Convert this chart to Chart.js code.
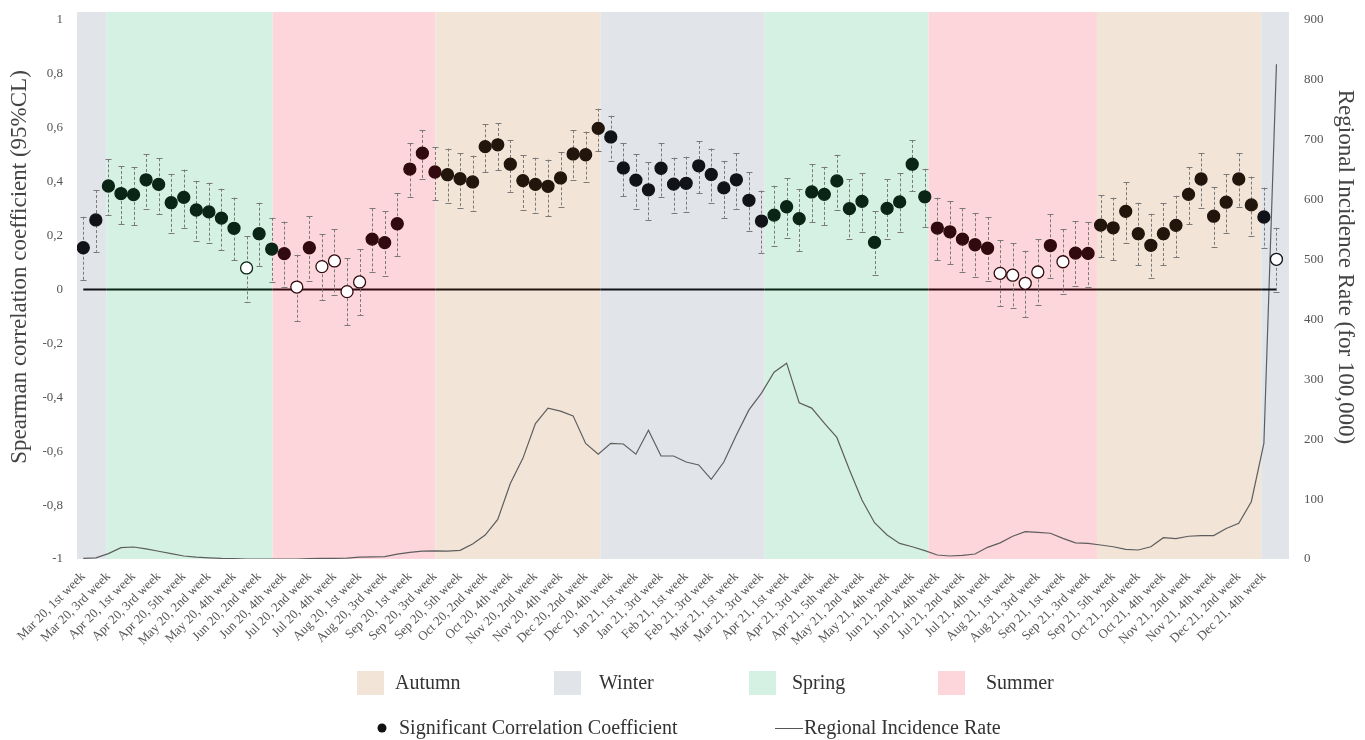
<!DOCTYPE html>
<html>
<head>
<meta charset="utf-8">
<script src="https://cdn.jsdelivr.net/npm/chart.js@4.4.1/dist/chart.umd.min.js"></script>
<style>
  html, body { margin: 0; padding: 0; background: #ffffff; }
  #wrap { position: relative; width: 1365px; height: 740px; }
</style>
</head>
<body>
<div id="wrap"><canvas id="chart" width="1365" height="740"></canvas></div>
<script>
// Weekly labels, Mar 2020 - Dec 2021
const weekLabels = [
  'Mar 20, 1st week','Mar 20, 2nd week','Mar 20, 3rd week','Mar 20, 4th week',
  'Apr 20, 1st week','Apr 20, 2nd week','Apr 20, 3rd week','Apr 20, 4th week','Apr 20, 5th week',
  'May 20, 1st week','May 20, 2nd week','May 20, 3rd week','May 20, 4th week',
  'Jun 20, 1st week','Jun 20, 2nd week','Jun 20, 3rd week','Jun 20, 4th week',
  'Jul 20, 1st week','Jul 20, 2nd week','Jul 20, 3rd week','Jul 20, 4th week','Jul 20, 5th week',
  'Aug 20, 1st week','Aug 20, 2nd week','Aug 20, 3rd week','Aug 20, 4th week',
  'Sep 20, 1st week','Sep 20, 2nd week','Sep 20, 3rd week','Sep 20, 4th week','Sep 20, 5th week',
  'Oct 20, 1st week','Oct 20, 2nd week','Oct 20, 3rd week','Oct 20, 4th week',
  'Nov 20, 1st week','Nov 20, 2nd week','Nov 20, 3rd week','Nov 20, 4th week',
  'Dec 20, 1st week','Dec 20, 2nd week','Dec 20, 3rd week','Dec 20, 4th week','Dec 20, 5th week',
  'Jan 21, 1st week','Jan 21, 2nd week','Jan 21, 3rd week','Jan 21, 4th week',
  'Feb 21, 1st week','Feb 21, 2nd week','Feb 21, 3rd week','Feb 21, 4th week',
  'Mar 21, 1st week','Mar 21, 2nd week','Mar 21, 3rd week','Mar 21, 4th week',
  'Apr 21, 1st week','Apr 21, 2nd week','Apr 21, 3rd week','Apr 21, 4th week','Apr 21, 5th week',
  'May 21, 1st week','May 21, 2nd week','May 21, 3rd week','May 21, 4th week',
  'Jun 21, 1st week','Jun 21, 2nd week','Jun 21, 3rd week','Jun 21, 4th week',
  'Jul 21, 1st week','Jul 21, 2nd week','Jul 21, 3rd week','Jul 21, 4th week','Jul 21, 5th week',
  'Aug 21, 1st week','Aug 21, 2nd week','Aug 21, 3rd week','Aug 21, 4th week',
  'Sep 21, 1st week','Sep 21, 2nd week','Sep 21, 3rd week','Sep 21, 4th week','Sep 21, 5th week',
  'Oct 21, 1st week','Oct 21, 2nd week','Oct 21, 3rd week','Oct 21, 4th week',
  'Nov 21, 1st week','Nov 21, 2nd week','Nov 21, 3rd week','Nov 21, 4th week',
  'Dec 21, 1st week','Dec 21, 2nd week','Dec 21, 3rd week','Dec 21, 4th week','Dec 21, 5th week'
];

// Spearman correlation coefficient per week
const rho = [
  0.155,0.258,0.384,0.356,0.352,0.407,0.390,0.322,0.342,0.295,
  0.288,0.265,0.227,0.080,0.207,0.150,0.133,0.009,0.155,0.085,
  0.106,-0.008,0.028,0.187,0.174,0.244,0.447,0.506,0.436,0.426,
  0.411,0.399,0.530,0.537,0.465,0.404,0.390,0.383,0.414,0.503,
  0.500,0.598,0.566,0.451,0.406,0.370,0.450,0.391,0.394,0.459,
  0.427,0.377,0.407,0.331,0.254,0.276,0.307,0.263,0.362,0.353,
  0.403,0.300,0.327,0.175,0.301,0.325,0.465,0.344,0.228,0.214,
  0.187,0.166,0.153,0.060,0.053,0.023,0.065,0.163,0.103,0.135,
  0.134,0.239,0.229,0.290,0.207,0.164,0.207,0.238,0.353,0.410,
  0.272,0.324,0.410,0.314,0.269,0.112
];

// 95% confidence limits
const ciHigh = [
  0.270,0.369,0.483,0.458,0.455,0.503,0.487,0.429,0.445,0.403,
  0.396,0.374,0.341,0.197,0.322,0.266,0.252,0.129,0.273,0.205,
  0.223,0.116,0.150,0.301,0.291,0.357,0.542,0.592,0.529,0.523,
  0.506,0.497,0.613,0.618,0.555,0.499,0.489,0.482,0.509,0.591,
  0.586,0.671,0.645,0.542,0.503,0.472,0.542,0.489,0.493,0.551,
  0.523,0.477,0.505,0.435,0.367,0.385,0.414,0.373,0.465,0.455,
  0.500,0.409,0.431,0.291,0.410,0.431,0.555,0.448,0.341,0.327,
  0.301,0.283,0.269,0.183,0.171,0.144,0.186,0.279,0.223,0.254,
  0.250,0.350,0.341,0.398,0.322,0.281,0.321,0.348,0.455,0.505,
  0.381,0.427,0.505,0.419,0.378,0.229
];
const ciLow = [
  0.035,0.140,0.275,0.242,0.239,0.299,0.280,0.208,0.227,0.180,
  0.171,0.147,0.108,-0.045,0.086,0.027,0.010,-0.116,0.033,-0.039,
  -0.019,-0.132,-0.096,0.064,0.051,0.125,0.344,0.409,0.331,0.320,
  0.302,0.290,0.436,0.443,0.363,0.296,0.283,0.272,0.306,0.405,
  0.400,0.513,0.477,0.347,0.298,0.259,0.344,0.283,0.286,0.357,
  0.322,0.266,0.299,0.216,0.137,0.160,0.192,0.144,0.250,0.239,
  0.294,0.186,0.212,0.053,0.186,0.212,0.364,0.231,0.109,0.095,
  0.066,0.045,0.032,-0.061,-0.070,-0.101,-0.056,0.043,-0.017,0.014,
  0.011,0.120,0.109,0.174,0.090,0.044,0.090,0.119,0.242,0.304,
  0.157,0.209,0.305,0.200,0.153,-0.008
];

// 1 = significant coefficient (filled marker), 0 = not significant (open marker)
const significant = [
  1,1,1,1,1,1,1,1,1,1, 1,1,1,0,1,1,1,0,1,0,
  0,0,0,1,1,1,1,1,1,1, 1,1,1,1,1,1,1,1,1,1,
  1,1,1,1,1,1,1,1,1,1, 1,1,1,1,1,1,1,1,1,1,
  1,1,1,1,1,1,1,1,1,1, 1,1,1,0,0,0,0,1,0,1,
  1,1,1,1,1,1,1,1,1,1, 1,1,1,1,1,0
];

// Regional incidence rate per 100,000
const incidence = [
  1,2,9,19,20,17,13,9,5,3,
  2,1,0.5,0,0,0,0,0,0.5,1,
  1,1.5,3,3.5,4,8,11,13,13.5,13,
  14.5,25,40,66,126,168,226,252,247,239,
  193,175,193,192,175,215,172,172,162,157,
  133,162,207,249,277,312,327,261,252,227,
  203,149,98.5,60.6,40,26,20.5,14,6.7,5,
  6,8.3,19.5,27,38,45.6,44.5,43,34.5,27,
  26,23.4,20.5,16,15,20.5,35.6,34,38,39,
  39,51,59.6,95.7,193,826
];

// Season shading, in week-index units
const bandSeason = ['Winter','Spring','Summer','Autumn','Winter','Spring','Summer','Autumn','Winter'];
const bandStart  = [-0.5, 1.83, 15.07, 28.03, 41.19, 54.24, 67.30, 80.71, 93.79];
const bandEnd    = [1.83, 15.07, 28.03, 41.19, 54.24, 67.30, 80.71, 93.79, 96.0];

const seasonNames  = ['Autumn','Winter','Spring','Summer'];
const seasonColors = ['#f2e5d8','#e1e4e9','#d5f1e3','#fdd6db'];
// dark ink tinted by the season shading behind it
const seasonInk    = ['#22150c','#111318','#0a2415','#300a0e'];

const leftTicks  = [-1,-0.8,-0.6,-0.4,-0.2,0,0.2,0.4,0.6,0.8,1];
const rightTicks = [0,100,200,300,400,500,600,700,800,900];

const SERIF = "'Liberation Serif', 'Times New Roman', serif";
const seasonColor = name => seasonColors[seasonNames.indexOf(name)];
const bandAt = i => {
  for (let k = 0; k < bandSeason.length; k++) {
    if (i >= bandStart[k] && i < bandEnd[k]) return k;
  }
  return bandSeason.length - 1;
};
const inkAt = i => seasonInk[seasonNames.indexOf(bandSeason[bandAt(i)])];

const seasonBands = {
  id: 'seasonBands',
  beforeDatasetsDraw(chart) {
    const { ctx, chartArea, scales } = chart;
    ctx.save();
    bandSeason.forEach((s, k) => {
      const x0 = scales.x.getPixelForValue(bandStart[k]);
      const x1 = scales.x.getPixelForValue(bandEnd[k]);
      ctx.fillStyle = seasonColor(s);
      ctx.fillRect(x0, chartArea.top - 8, x1 - x0, chartArea.bottom - chartArea.top + 8);
    });
    ctx.restore();
  }
};

// zero reference line and confidence-interval whiskers, drawn under the markers
const whiskers = {
  id: 'whiskers',
  beforeDatasetDraw(chart, args) {
    if (args.index !== 1) return;
    const { ctx, scales } = chart;
    const xs = scales.x, ys = scales.y;
    const y0 = ys.getPixelForValue(0);
    const first = 0, last = rho.length - 1;
    ctx.save();
    ctx.lineWidth = 2;
    bandSeason.forEach((s, k) => {
      const a = Math.max(bandStart[k], first), b = Math.min(bandEnd[k], last);
      if (b <= a) return;
      ctx.strokeStyle = seasonInk[seasonNames.indexOf(s)];
      ctx.beginPath();
      ctx.moveTo(xs.getPixelForValue(a), y0);
      ctx.lineTo(xs.getPixelForValue(b), y0);
      ctx.stroke();
    });

    ctx.strokeStyle = '#7a7a7a';
    ctx.lineWidth = 1;
    rho.forEach((v, i) => {
      const x = Math.round(xs.getPixelForValue(i)) + 0.5;
      const yHi = ys.getPixelForValue(ciHigh[i]);
      const yLo = ys.getPixelForValue(ciLow[i]);
      ctx.setLineDash([3, 2]);
      ctx.beginPath();
      ctx.moveTo(x, yHi);
      ctx.lineTo(x, yLo);
      ctx.stroke();
      ctx.setLineDash([]);
      ctx.beginPath();
      ctx.moveTo(x - 3, Math.round(yHi) + 0.5);
      ctx.lineTo(x + 3, Math.round(yHi) + 0.5);
      ctx.moveTo(x - 3, Math.round(yLo) + 0.5);
      ctx.lineTo(x + 3, Math.round(yLo) + 0.5);
      ctx.stroke();
    });
    ctx.restore();
  }
};

// axis titles, centred a little above the plot middle
const axisTitles = {
  id: 'axisTitles',
  afterDraw(chart) {
    const { ctx } = chart;
    ctx.save();
    ctx.font = '23px ' + SERIF;
    ctx.fillStyle = '#444444';
    ctx.textAlign = 'center';
    ctx.textBaseline = 'middle';
    ctx.translate(20, 267);
    ctx.rotate(-Math.PI / 2);
    ctx.fillText('Spearman correlation coefficient (95%CL)', 0, 0);
    ctx.restore();
    ctx.save();
    ctx.font = '23px ' + SERIF;
    ctx.fillStyle = '#444444';
    ctx.textAlign = 'center';
    ctx.textBaseline = 'middle';
    ctx.translate(1345, 267);
    ctx.rotate(Math.PI / 2);
    ctx.fillText('Regional Incidence Rate (for 100,000)', 0, 0);
    ctx.restore();
  }
};

// two-row legend below the week labels
const bottomLegend = {
  id: 'bottomLegend',
  afterDraw(chart) {
    const { ctx } = chart;
    ctx.save();
    ctx.font = '20px ' + SERIF;
    ctx.textBaseline = 'middle';
    const swatchX = [357, 554, 749, 938];
    const textX   = [395, 599, 792, 986];
    seasonNames.forEach((name, k) => {
      ctx.fillStyle = seasonColors[k];
      ctx.fillRect(swatchX[k], 671, 27, 24);
      ctx.fillStyle = '#333333';
      ctx.fillText(name, textX[k], 684);
    });
    ctx.beginPath();
    ctx.arc(382, 728, 4.5, 0, Math.PI * 2);
    ctx.fillStyle = '#111111';
    ctx.fill();
    ctx.fillStyle = '#333333';
    ctx.fillText('Significant Correlation Coefficient', 399, 729);
    ctx.strokeStyle = '#555555';
    ctx.lineWidth = 1;
    ctx.beginPath();
    ctx.moveTo(775, 728.5);
    ctx.lineTo(803, 728.5);
    ctx.stroke();
    ctx.fillText('Regional Incidence Rate', 804, 729);
    ctx.restore();
  }
};

const fmtComma = v => {
  const r = Math.round(v * 10) / 10;
  return String(r).replace('.', ',');
};

new Chart(document.getElementById('chart'), {
  data: {
    datasets: [
      {
        type: 'line',
        label: 'Regional Incidence Rate',
        yAxisID: 'y1',
        data: incidence.map((v, i) => ({ x: i, y: v })),
        borderColor: '#5e5e5e',
        borderWidth: 1.2,
        pointRadius: 0,
        tension: 0,
        order: 2
      },
      {
        type: 'line',
        label: 'Significant Correlation Coefficient',
        yAxisID: 'y',
        data: rho.map((v, i) => ({ x: i, y: v })),
        showLine: false,
        pointRadius: 6,
        pointHoverRadius: 6,
        pointBorderWidth: 1.3,
        pointBorderColor: rho.map((v, i) => inkAt(i)),
        pointBackgroundColor: rho.map((v, i) => significant[i] ? inkAt(i) : '#ffffff'),
        order: 1
      }
    ]
  },
  options: {
    responsive: false,
    animation: false,
    events: [],
    layout: { padding: { top: 20, left: 0, right: 0, bottom: 0 } },
    plugins: { legend: { display: false }, tooltip: { enabled: false } },
    scales: {
      x: {
        type: 'linear',
        min: -0.5,
        max: 96,
        grid: { display: false },
        border: { display: false },
        afterBuildTicks: s => {
          s.ticks = weekLabels.map((_, i) => i).filter(i => i % 2 === 0).map(v => ({ value: v }));
        },
        afterFit: s => { s.height = 181; },
        ticks: {
          autoSkip: false,
          minRotation: 45,
          maxRotation: 45,
          padding: 2,
          color: '#555555',
          font: { family: SERIF, size: 13 },
          callback: v => weekLabels[v]
        }
      },
      y: {
        type: 'linear',
        position: 'left',
        min: -1,
        max: 1,
        grid: { display: false },
        border: { display: false },
        afterBuildTicks: s => { s.ticks = leftTicks.map(v => ({ value: v })); },
        afterFit: s => { s.width = 77; },
        ticks: {
          padding: 6,
          color: '#555555',
          font: { family: SERIF, size: 13 },
          callback: v => fmtComma(v)
        }
      },
      y1: {
        type: 'linear',
        position: 'right',
        min: 0,
        max: 900,
        grid: { display: false },
        border: { display: false },
        afterBuildTicks: s => { s.ticks = rightTicks.map(v => ({ value: v })); },
        afterFit: s => { s.width = 76; },
        ticks: {
          padding: 7,
          color: '#555555',
          font: { family: SERIF, size: 13 }
        }
      }
    }
  },
  plugins: [seasonBands, whiskers, axisTitles, bottomLegend]
});
</script>
</body>
</html>
